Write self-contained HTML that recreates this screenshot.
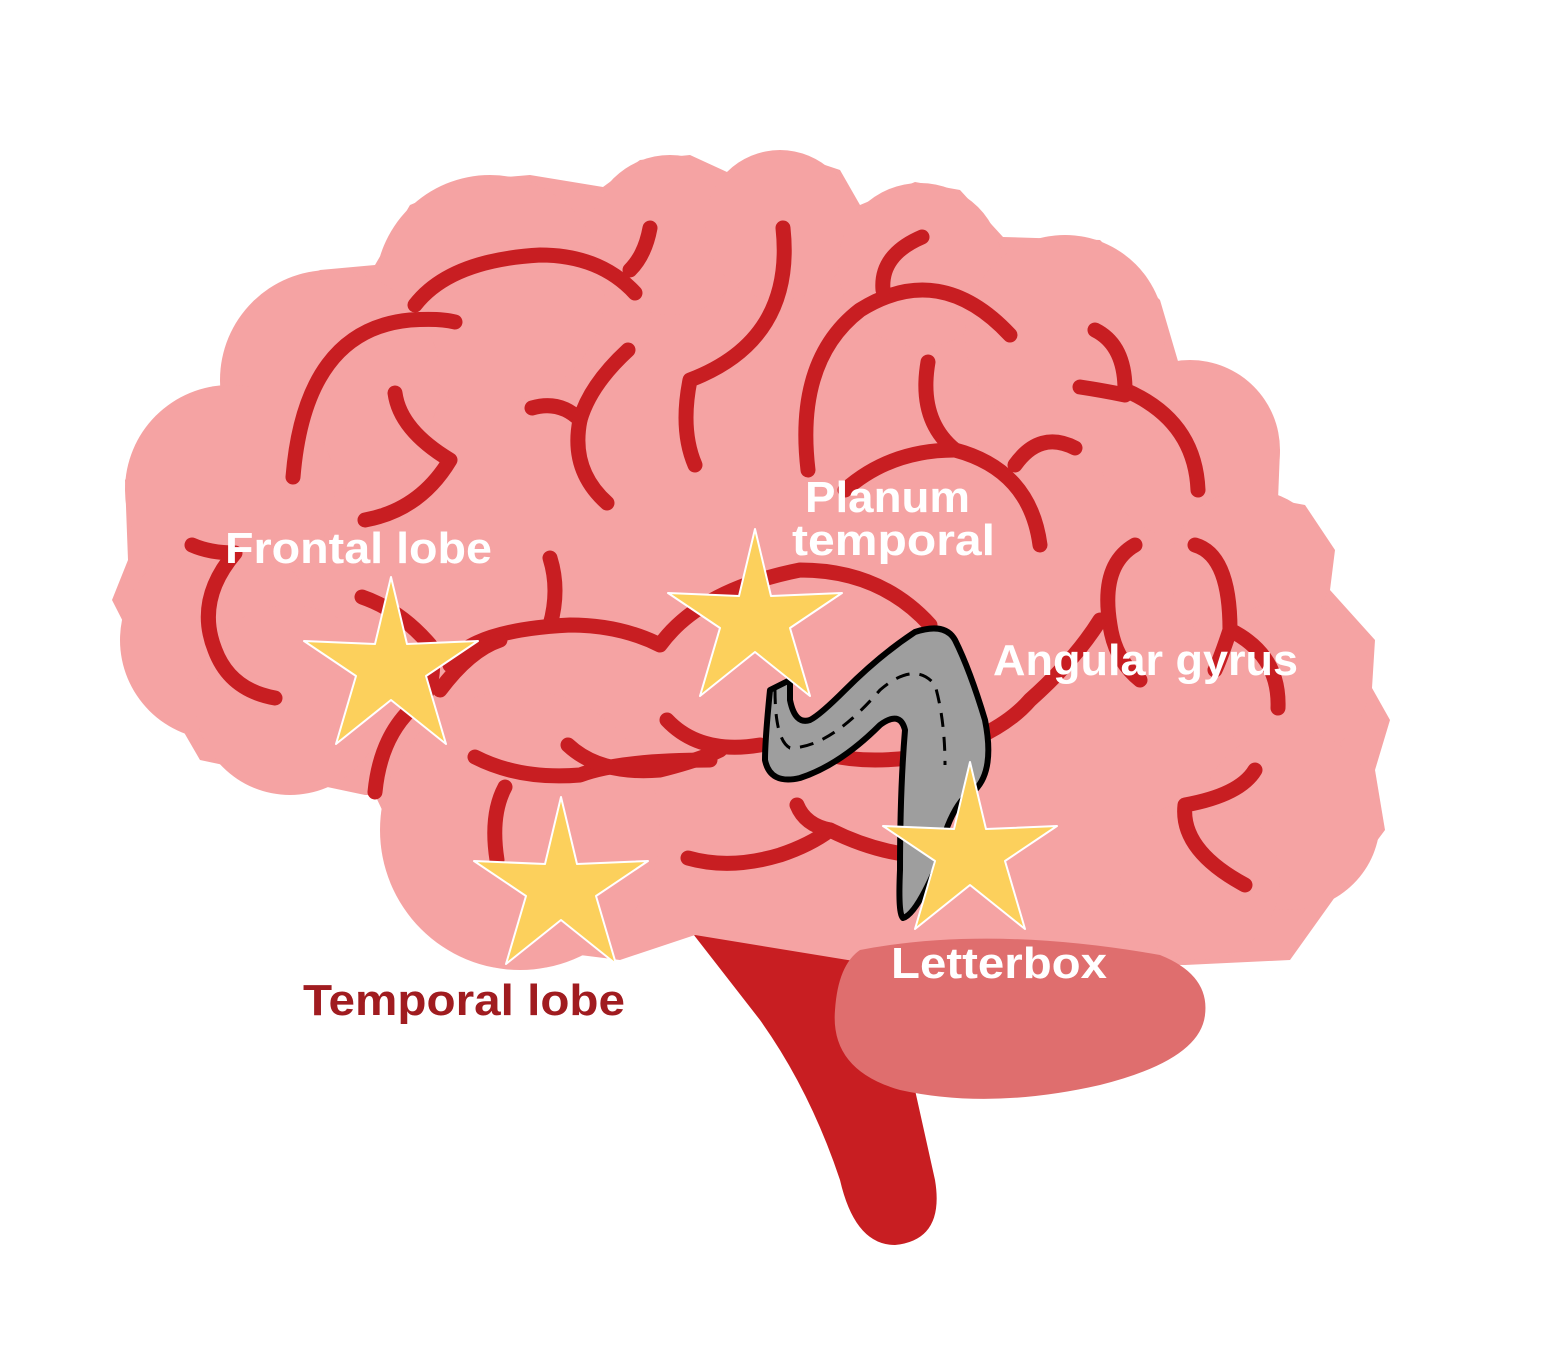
<!DOCTYPE html>
<html><head><meta charset="utf-8"><style>html,body{margin:0;padding:0;background:#fff}svg{display:block}</style></head>
<body>
<svg width="1545" height="1360" viewBox="0 0 1545 1360" xmlns="http://www.w3.org/2000/svg">
<path d="M690,930 L860,962 L915,1090 L935,1180 Q945,1240 895,1245 Q855,1245 840,1180 Q810,1090 760,1020 Z" fill="#c81e22"/>
<g fill="#f5a3a3">
<polygon points="128,560 112,600 140,655 145,665 200,760 365,795 375,795 420,890 500,945 620,960 695,935 860,962 1185,965 1290,960 1335,897 1385,830 1375,770 1390,720 1372,688 1375,640 1330,590 1335,550 1305,505 1278,500 1280,450 1245,380 1180,368 1160,300 1100,240 1003,237 960,190 915,182 860,205 840,170 780,150 727,172 690,155 640,160 603,187 530,175 470,180 410,205 375,265 320,270 260,300 232,380 175,410 125,480"/>
<circle cx="670" cy="235" r="80"/><circle cx="780" cy="225" r="75"/><circle cx="920" cy="265" r="82"/>
<circle cx="1065" cy="335" r="100"/><circle cx="1190" cy="450" r="90"/><circle cx="1250" cy="570" r="80"/>
<circle cx="1290" cy="680" r="80"/><circle cx="1290" cy="820" r="90"/><circle cx="490" cy="290" r="115"/>
<circle cx="330" cy="380" r="110"/><circle cx="230" cy="490" r="105"/><circle cx="220" cy="640" r="100"/>
<circle cx="290" cy="700" r="95"/><circle cx="520" cy="830" r="140"/><circle cx="1200" cy="880" r="80"/>
</g>
<path d="M860,950 Q990,925 1160,955 Q1210,975 1205,1015 Q1200,1060 1100,1085 Q990,1110 900,1090 Q830,1070 835,1010 Q838,965 860,950 Z" fill="#df6e6e"/>
<g fill="none" stroke="#c81e22" stroke-width="15" stroke-linecap="round" stroke-linejoin="round">
<path d="M293,477 Q305,330 410,320 Q440,318 455,322"/>
<path d="M415,305 Q450,260 540,255 Q600,255 635,293"/>
<path d="M630,270 Q645,255 650,228"/>
<path d="M395,393 Q400,430 450,460 Q420,510 365,520"/>
<path d="M532,408 Q560,400 580,420 Q570,470 607,503"/>
<path d="M580,420 Q590,385 628,350"/>
<path d="M783,228 Q795,340 690,380 Q680,430 695,465"/>
<path d="M808,470 Q795,360 860,310 Q940,260 1010,335"/>
<path d="M883,290 Q880,255 922,237"/>
<path d="M928,362 Q918,420 955,450 Q1030,470 1040,545"/>
<path d="M845,490 Q890,450 955,450"/>
<path d="M1015,465 Q1040,430 1075,448"/>
<path d="M1095,330 Q1125,345 1125,390 Q1195,420 1198,490"/>
<path d="M1080,387 Q1100,390 1125,395"/>
<path d="M1135,545 Q1100,565 1110,625 Q1115,660 1140,680"/>
<path d="M1195,545 Q1230,555 1230,630 Q1280,655 1278,708"/>
<path d="M1230,630 Q1220,660 1215,670"/>
<path d="M1255,770 Q1240,795 1185,805 Q1180,850 1245,885"/>
<path d="M192,545 Q210,553 235,553 Q195,600 215,650 Q230,690 275,698"/>
<path d="M362,597 Q400,610 430,645 Q440,690 410,710 Q380,740 375,792"/>
<path d="M550,558 Q560,590 550,625"/>
<path d="M450,665 Q470,630 570,625 Q620,625 660,645 Q700,590 800,570 Q880,570 930,625"/>
<path d="M440,690 Q470,650 500,640"/>
<path d="M475,757 Q520,780 580,775 Q620,760 710,760"/>
<path d="M568,745 Q600,775 660,770 Q700,760 720,750"/>
<path d="M667,720 Q700,755 760,745"/>
<path d="M830,755 Q870,765 930,755 Q1000,735 1030,700 Q1075,660 1100,620"/>
<path d="M505,787 Q490,815 497,860"/>
<path d="M688,858 Q730,870 780,855 Q810,845 830,830 Q870,850 910,855"/>
<path d="M797,805 Q805,825 830,830"/>
</g>
<path d="M770,690 Q765,740 765,760 Q770,785 800,778 Q840,765 880,725 Q900,710 905,730 Q900,790 900,870 Q898,915 903,918 Q915,915 935,870 Q950,800 975,790 Q995,770 985,720 Q970,670 955,640 Q945,622 915,632 Q880,655 845,690 Q820,715 810,720 Q795,725 790,700 L790,680 Z" fill="#9e9e9e" stroke="#000" stroke-width="6" stroke-linejoin="round"/>
<g fill="none" stroke="#000" stroke-width="3" stroke-dasharray="14,10">
<path d="M775,690 Q775,740 790,748 Q830,748 880,690 Q915,660 935,685 Q945,720 945,765"/>
</g>
<g fill="#fcd05c" stroke="#fff" stroke-width="2" stroke-linejoin="round">
<path d="M0,-95 L16,-28 L87,-31 L35,4 L55,72 L0,28 L-55,72 L-35,4 L-87,-31 L-16,-28 Z" transform="translate(391,672)"/>
<path d="M0,-95 L16,-28 L87,-31 L35,4 L55,72 L0,28 L-55,72 L-35,4 L-87,-31 L-16,-28 Z" transform="translate(755,624)"/>
<path d="M0,-95 L16,-28 L87,-31 L35,4 L55,72 L0,28 L-55,72 L-35,4 L-87,-31 L-16,-28 Z" transform="translate(561,892)"/>
<path d="M0,-95 L16,-28 L87,-31 L35,4 L55,72 L0,28 L-55,72 L-35,4 L-87,-31 L-16,-28 Z" transform="translate(970,857)"/>
</g>
<g font-family="Liberation Sans, sans-serif" font-weight="bold" font-size="44" fill="#fff">
<text x="225" y="563" textLength="267" lengthAdjust="spacingAndGlyphs">Frontal lobe</text>
<text x="805" y="512" textLength="165" lengthAdjust="spacingAndGlyphs">Planum</text>
<text x="792" y="555" textLength="203" lengthAdjust="spacingAndGlyphs">temporal</text>
<text x="993" y="675" textLength="305" lengthAdjust="spacingAndGlyphs">Angular gyrus</text>
<text x="891" y="978" textLength="216" lengthAdjust="spacingAndGlyphs">Letterbox</text>
<text x="303" y="1015" textLength="322" lengthAdjust="spacingAndGlyphs" fill="#a01c20">Temporal lobe</text>
</g>
</svg>
</body></html>
